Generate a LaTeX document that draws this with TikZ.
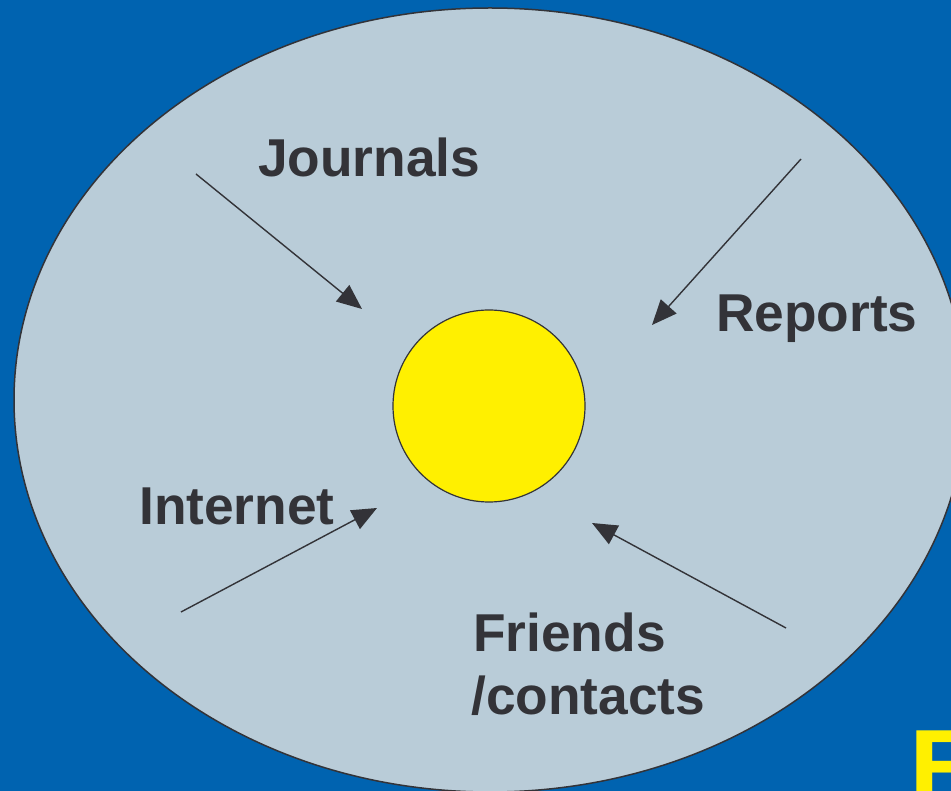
\documentclass[tikz,border=0pt]{standalone}
\usepackage{fontspec}
\setmainfont{Liberation Sans}
\usetikzlibrary{arrows.meta}
\definecolor{bgblue}{RGB}{0,99,176}
\definecolor{pale}{RGB}{185,204,216}
\definecolor{ink}{RGB}{51,51,56}
\definecolor{sun}{RGB}{255,240,0}
\begin{document}
\begin{tikzpicture}[x=1pt,y=-1pt,
  label/.style={anchor=base west,inner sep=0pt,text=ink,
    font=\fontsize{53.3}{60}\selectfont\bfseries},
  feed/.style={draw=ink,line width=1.4pt,
    -{Triangle[length=25pt,width=21pt]}}]
  \useasboundingbox (0,0) rectangle (951,791);
  \fill[bgblue] (0,0) rectangle (951,791);
  % outer field
  \draw[fill=pale,draw=ink,line width=1.5pt] (490,400) ellipse [x radius=476, y radius=392];
  % core
  \node[circle,fill=sun,draw=ink,line width=1.2pt,minimum size=192pt,inner sep=0pt] (core) at (489,406) {};
  % sources
  \node[label] (jour) at (258,177) {Journals};
  \node[label] (rep) at (716,332) {Reports};
  \node[label] (net) at (139,525) {Internet};
  \node[label] (fri) at (473,651) {Friends};
  \node[label] (con) at (471,714) {/contacts};
  % arrow ends
  \coordinate (j0) at (196,174); \coordinate (j1) at (362,309);
  \coordinate (r0) at (801,159); \coordinate (r1) at (652,325);
  \coordinate (i0) at (181,612); \coordinate (i1) at (377,508);
  \coordinate (f0) at (786,628); \coordinate (f1) at (592,523);
  \draw[feed] (j0) -- (j1);
  \draw[feed] (r0) -- (r1);
  \draw[feed] (i0) -- (i1);
  \draw[feed] (f0) -- (f1);
  % corner mark
  \node[anchor=base west,inner sep=0pt,text=sun,
    font=\fontsize{110}{120}\selectfont\bfseries] (mark) at (909,806) {B};
\end{tikzpicture}
\end{document}
